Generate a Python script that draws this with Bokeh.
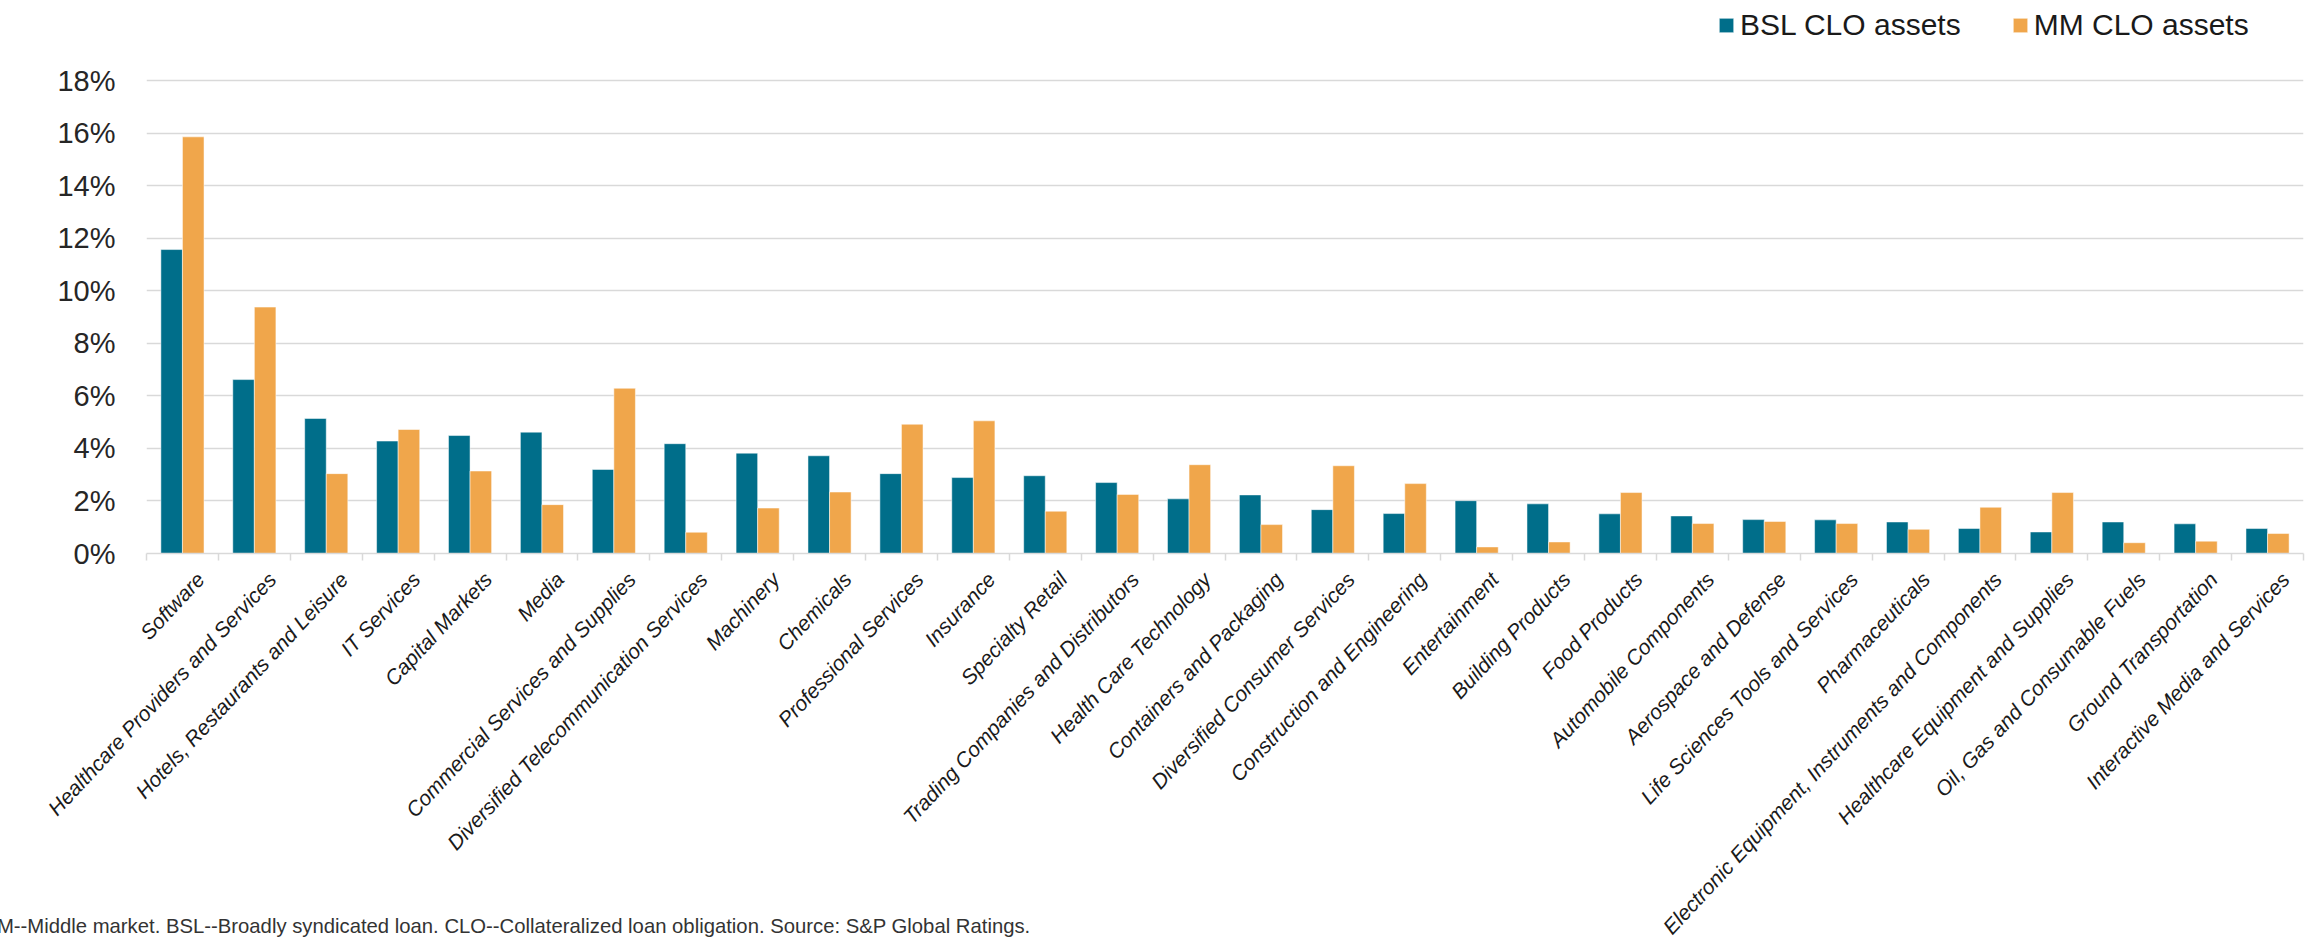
from math import pi
from bokeh.plotting import figure
from bokeh.layouts import column
from bokeh.models import (Range1d, FixedTicker, LinearAxis, PrintfTickFormatter,
                          Legend, LegendItem, Div, ColumnDataSource)
from bokeh.transform import dodge
from bokeh.embed import file_html
from bokeh.resources import INLINE

categories = [
    "Software", "Healthcare Providers and Services", "Hotels, Restaurants and Leisure",
    "IT Services", "Capital Markets", "Media", "Commercial Services and Supplies",
    "Diversified Telecommunication Services", "Machinery", "Chemicals",
    "Professional Services", "Insurance", "Specialty Retail",
    "Trading Companies and Distributors", "Health Care Technology",
    "Containers and Packaging", "Diversified Consumer Services",
    "Construction and Engineering", "Entertainment", "Building Products",
    "Food Products", "Automobile Components", "Aerospace and Defense",
    "Life Sciences Tools and Services", "Pharmaceuticals",
    "Electronic Equipment, Instruments and Components",
    "Healthcare Equipment and Supplies", "Oil, Gas and Consumable Fuels",
    "Ground Transportation", "Interactive Media and Services",
]
bsl_clo = [11.57, 6.62, 5.14, 4.28, 4.49, 4.62, 3.20, 4.18, 3.82, 3.72,
           3.04, 2.89, 2.96, 2.70, 2.08, 2.23, 1.67, 1.52, 2.01, 1.89,
           1.51, 1.43, 1.29, 1.28, 1.20, 0.95, 0.82, 1.20, 1.13, 0.95]
mm_clo = [15.86, 9.38, 3.04, 4.72, 3.14, 1.86, 6.29, 0.81, 1.73, 2.34,
          4.92, 5.05, 1.61, 2.25, 3.38, 1.10, 3.34, 2.66, 0.25, 0.44,
          2.32, 1.14, 1.22, 1.14, 0.92, 1.76, 2.32, 0.41, 0.47, 0.76]
y_ticks = [0, 2, 4, 6, 8, 10, 12, 14, 16, 18]
series_labels = ["BSL CLO assets", "MM CLO assets"]
footnote = ("MM--Middle market. BSL--Broadly syndicated loan. "
            "CLO--Collateralized loan obligation. Source: S&P Global Ratings.")

TEAL = "#006E8A"
ORANGE = "#F0A64B"
GRID = "#D9D9D9"
FONT = "Liberation Sans"

n = len(categories)
x_pos = list(range(n))
source = ColumnDataSource(dict(x=x_pos, cat=categories, bsl=bsl_clo, mm=mm_clo))

p = figure(width=2313, height=949, output_backend="svg", toolbar_location=None,
           x_range=Range1d(-0.5, n - 0.5), y_range=Range1d(0, 21.05),
           x_axis_type=None, min_border_left=146, min_border_right=10,
           min_border_top=0, min_border_bottom=394)
p.outline_line_color = None
p.background_fill_color = "white"
p.border_fill_color = "white"

r1 = p.vbar(x=dodge("x", -0.15), top="bsl", width=0.3, source=source,
            fill_color=TEAL, line_color="white", line_alpha=0.5, line_width=1)
r2 = p.vbar(x=dodge("x", 0.15), top="mm", width=0.3, source=source,
            fill_color=ORANGE, line_color="white", line_alpha=0.5, line_width=1)

# y axis
yax = p.yaxis[0]
yax.ticker = FixedTicker(ticks=y_ticks)
yax.formatter = PrintfTickFormatter(format="%d%%")
yax.axis_line_color = None
yax.major_tick_line_color = None
yax.minor_tick_line_color = None
yax.major_tick_out = 0
yax.major_tick_in = 0
yax.major_label_standoff = 31
yax.major_label_text_font = FONT
yax.major_label_text_font_size = "29px"
yax.major_label_text_color = "#262626"

p.ygrid.ticker = FixedTicker(ticks=y_ticks)
p.ygrid.grid_line_color = GRID
p.ygrid.grid_line_width = 1.5

# x axis: rotated labels anchored a little right of each category centre,
# tick marks at the category boundaries
label_pos = [i + 0.25 for i in x_pos]
xax = LinearAxis(
    ticker=FixedTicker(ticks=label_pos, minor_ticks=[i - 0.5 for i in range(n + 1)]),
    major_label_overrides={lp: c for lp, c in zip(label_pos, categories)},
    major_label_orientation=47 * pi / 180,
)
xax.axis_line_color = GRID
xax.axis_line_width = 1.5
xax.major_tick_line_color = None
xax.major_tick_out = 0
xax.major_tick_in = 0
xax.minor_tick_line_color = GRID
xax.minor_tick_line_width = 1.5
xax.minor_tick_out = 7
xax.minor_tick_in = 0
xax.major_label_standoff = 15
xax.major_label_text_font = FONT
xax.major_label_text_font_style = "italic"
xax.major_label_text_font_size = "21px"
xax.major_label_text_color = "#1a1a1a"
p.add_layout(xax, "below")

legend = Legend(items=[LegendItem(label=series_labels[0], renderers=[r1]),
                       LegendItem(label=series_labels[1], renderers=[r2])],
                orientation="horizontal", location=(1571, 511))
legend.border_line_color = None
legend.background_fill_alpha = 0
legend.padding = 0
legend.margin = 0
legend.spacing = 50
legend.label_standoff = 5
legend.glyph_width = 18
legend.glyph_height = 18
legend.label_text_font = FONT
legend.label_text_font_size = "30px"
legend.label_text_color = "#1a1a1a"
p.add_layout(legend)

note = Div(text=footnote, margin=(-34, 0, 0, -20),
           styles={"font-family": FONT, "font-size": "20.3px", "color": "#333333",
                   "white-space": "nowrap", "line-height": "normal"})

layout = column(p, note, spacing=0)
open("out.html", "w").write(file_html(layout, INLINE))
